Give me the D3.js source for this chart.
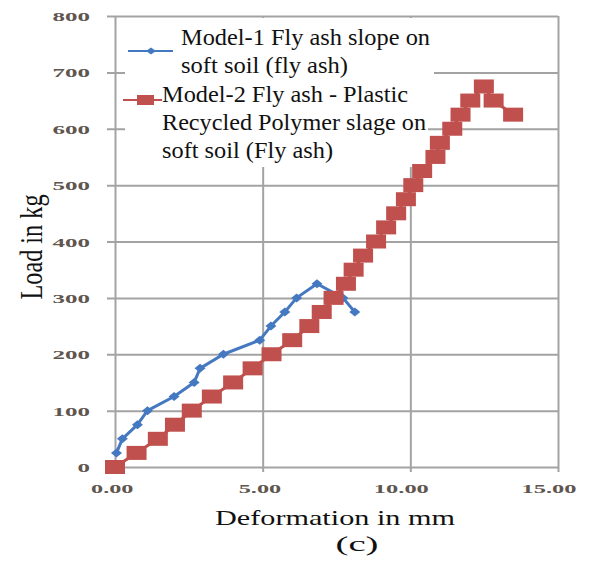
<!DOCTYPE html>
<html>
<head>
<meta charset="utf-8">
<script src="https://cdn.jsdelivr.net/npm/d3@7"></script>
<style>
  body { margin: 0; background: #fff; }
  svg { display: block; }
  text { font-family: "Liberation Serif", "DejaVu Serif", serif; }
</style>
</head>
<body>
<div id="chart"></div>
<script>
// Model-1: fly ash slope on soft soil
var model1X = [0.05, 0.25, 0.76, 1.1, 2.0, 2.68, 2.88, 3.67, 4.9, 5.28, 5.75, 6.15, 6.84, 7.72, 8.12];
var model1Y = [25, 50, 75, 100, 125, 150, 175, 200, 225, 250, 275, 300, 325, 300, 275];
// Model-2: fly ash - plastic recycled polymer slope on soft soil
var model2X = [0, 0.73, 1.45, 2.03, 2.6, 3.28, 4.0, 4.66, 5.3, 6.0, 6.58, 7.0, 7.4, 7.82, 8.08, 8.4, 8.84, 9.18, 9.52, 9.85, 10.1, 10.4, 10.85, 11.0, 11.42, 11.7, 12.03, 12.49, 12.82, 13.48];
var model2Y = [0, 25, 50, 75, 100, 125, 150, 175, 200, 225, 250, 275, 300, 325, 350, 375, 400, 425, 450, 475, 500, 525, 550, 575, 600, 625, 650, 675, 650, 625];

var xTicks = [0, 5, 10, 15];
var xTickLabels = ["0.00", "5.00", "10.00", "15.00"];
var yTicks = [0, 100, 200, 300, 400, 500, 600, 700, 800];

var legend1 = ["Model-1 Fly ash slope on", "soft soil (fly ash)"];
var legend2 = ["Model-2 Fly ash - Plastic", "Recycled Polymer slage on", "soft soil (Fly ash)"];

var W = 597, H = 561;
var pL = 115, pR = 558, pT = 16, pB = 467;
var BLUE = "#4479c2", RED = "#c0504d", GRID = "#a3a3a3", TICK = "#5f5650";

var svg = d3.select("#chart").append("svg")
  .attr("width", W).attr("height", H);

var x = d3.scaleLinear().domain([0, 15]).range([pL, pR]);
var y = d3.scaleLinear().domain([0, 800]).range([pB, pT]);

function labelLen(s) {
  // reference digits are wide; dots are narrow
  var n = s.replace(/\./g, "").length, dots = s.length - n;
  return n * 12.5 + dots * 5;
}

// horizontal grid + y ticks
var yAxis = d3.axisLeft(y).tickValues(yTicks)
  .tickSize(0).tickPadding(0).tickFormat(d3.format("d"));
var gy = svg.append("g").attr("transform", "translate(" + (pL - 8) + ",0)").call(yAxis);
gy.select(".domain").remove();
gy.selectAll(".tick line").attr("x1", 0).attr("x2", pR - pL + 8)
  .attr("stroke", GRID).attr("stroke-width", 2);
gy.selectAll(".tick text")
  .attr("x", -17).attr("dy", "0.35em")
  .attr("fill", TICK).attr("font-family", null)
  .attr("font-size", 13).attr("font-weight", "bold")
  .attr("text-anchor", "end")
  .attr("textLength", function(d) { return labelLen(String(d)); })
  .attr("lengthAdjust", "spacingAndGlyphs");

// vertical grid + x ticks
var xAxis = d3.axisBottom(x).tickValues(xTicks)
  .tickSize(0).tickPadding(0)
  .tickFormat(function(d, i) { return xTickLabels[i]; });
var gx = svg.append("g").attr("transform", "translate(0," + (pB + 5) + ")").call(xAxis);
gx.select(".domain").remove();
gx.selectAll(".tick line").attr("y1", 0).attr("y2", -(pB - pT + 5))
  .attr("stroke", GRID).attr("stroke-width", 2);
gx.selectAll(".tick text")
  .attr("x", 18).attr("y", 21).attr("dy", 0)
  .attr("fill", TICK).attr("font-family", null)
  .attr("font-size", 13).attr("font-weight", "bold")
  .attr("text-anchor", "end")
  .attr("textLength", function(d, i) { return labelLen(xTickLabels[i]); })
  .attr("lengthAdjust", "spacingAndGlyphs");
gy.attr("font-family", null);
gx.attr("font-family", null);

// legend background (hides the grid under it)
svg.append("rect").attr("x", 125).attr("y", pT + 2).attr("width", 309).attr("height", 64).attr("fill", "#fff");
svg.append("rect").attr("x", 125).attr("y", pT + 64).attr("width", 303).attr("height", 87).attr("fill", "#fff");

// series
var diamond = "M0,-4.5L5.5,0L0,4.5L-5.5,0Z";

function drawSeries(xs, ys, color, width) {
  var pts = xs.map(function(v, i) { return [v, ys[i]]; });
  svg.append("path").datum(pts)
    .attr("fill", "none").attr("stroke", color).attr("stroke-width", width)
    .attr("stroke-linejoin", "round")
    .attr("d", d3.line().x(function(d) { return x(d[0]); }).y(function(d) { return y(d[1]); }));
  return pts;
}

var p1 = drawSeries(model1X, model1Y, BLUE, 3);
svg.append("g").selectAll("path").data(p1).enter().append("path")
  .attr("d", diamond).attr("fill", BLUE)
  .attr("transform", function(d) { return "translate(" + x(d[0]) + "," + y(d[1]) + ")"; });

var p2 = drawSeries(model2X, model2Y, RED, 3);
svg.append("g").selectAll("rect").data(p2).enter().append("rect")
  .attr("x", function(d) { return x(d[0]) - 10; })
  .attr("y", function(d) { return y(d[1]) - 7; })
  .attr("width", 20).attr("height", 14).attr("fill", RED);

// legend
var lg = svg.append("g").attr("font-size", 23).attr("fill", "#111");
lg.append("line").attr("x1", 128).attr("x2", 173).attr("y1", 51).attr("y2", 51).attr("stroke", BLUE).attr("stroke-width", 2);
lg.append("path").attr("d", "M0,-3.5L5,0L0,3.5L-5,0Z").attr("fill", BLUE).attr("transform", "translate(151,51)");
lg.append("line").attr("x1", 123).attr("x2", 162).attr("y1", 100).attr("y2", 100).attr("stroke", RED).attr("stroke-width", 2);
lg.append("rect").attr("x", 137).attr("y", 95).attr("width", 17).attr("height", 10).attr("fill", RED);

var l1Len = [249, 167], l2Len = [246, 264, 171];
legend1.forEach(function(t, i) {
  lg.append("text").attr("x", 181).attr("y", 45 + i * 28).text(t)
    .attr("textLength", l1Len[i]).attr("lengthAdjust", "spacingAndGlyphs");
});
legend2.forEach(function(t, i) {
  lg.append("text").attr("x", 162).attr("y", 102 + i * 28).text(t)
    .attr("textLength", l2Len[i]).attr("lengthAdjust", "spacingAndGlyphs");
});

// axis titles
svg.append("text")
  .attr("transform", "translate(42,247) scale(1.4,1) rotate(-90)")
  .attr("text-anchor", "middle").attr("font-size", 23)
  .attr("fill", "#111").attr("textLength", 105).attr("lengthAdjust", "spacingAndGlyphs")
  .text("Load in kg");

svg.append("text").attr("x", 335).attr("y", 525)
  .attr("text-anchor", "middle").attr("font-size", 21)
  .attr("fill", "#111").attr("textLength", 240).attr("lengthAdjust", "spacingAndGlyphs")
  .text("Deformation in mm");

svg.append("text").attr("x", 357).attr("y", 551)
  .attr("text-anchor", "middle").attr("font-size", 21)
  .attr("fill", "#111").attr("textLength", 43).attr("lengthAdjust", "spacingAndGlyphs")
  .text("(c)");
</script>
</body>
</html>
